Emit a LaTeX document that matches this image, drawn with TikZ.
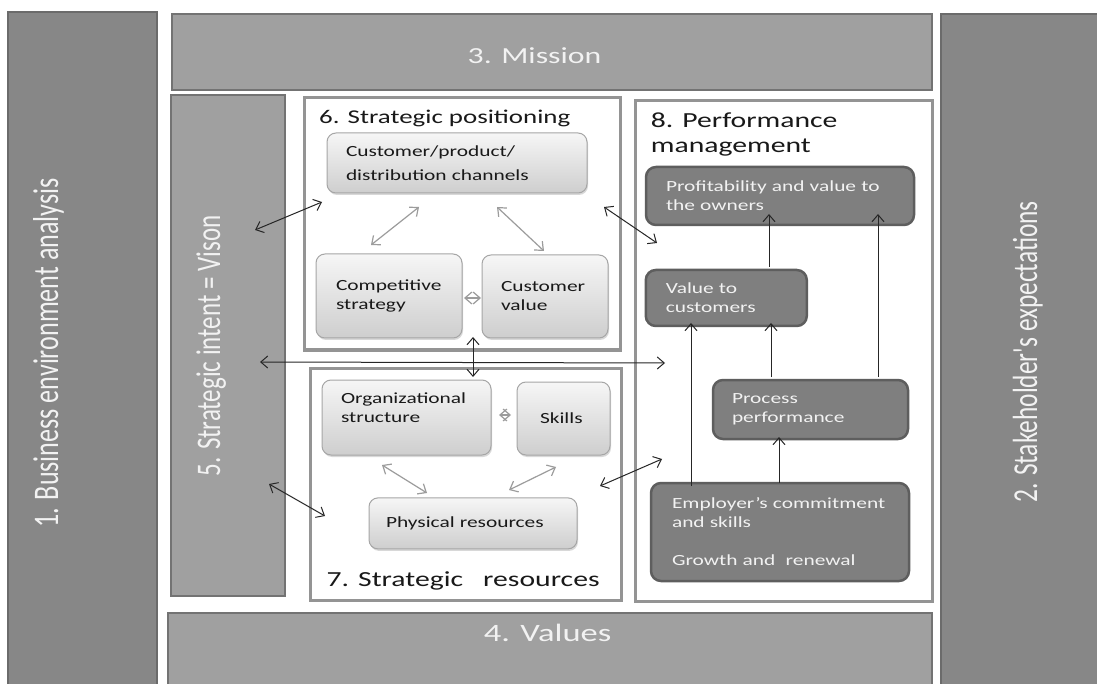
\documentclass[tikz,border=0pt]{standalone}
\usepackage{fontspec}
\setmainfont{Carlito}[FakeStretch=1.38]
\newfontfamily\sidefont{Carlito}[FakeStretch=0.725]
\usetikzlibrary{shadows, arrows.meta, positioning, calc}

\definecolor{sidegray}{HTML}{878787}
\definecolor{sideedge}{HTML}{6B6B6B}
\definecolor{bandgray}{HTML}{A0A0A0}
\definecolor{bandedge}{HTML}{737373}
\definecolor{paneledge}{HTML}{949494}
\definecolor{lighttop}{HTML}{F6F6F6}
\definecolor{lightbottom}{HTML}{CECECE}
\definecolor{lightedge}{HTML}{A6A6A6}
\definecolor{darkfill}{HTML}{7F7F7F}
\definecolor{darkedge}{HTML}{5E5E5E}
\definecolor{labelwhite}{HTML}{F2F2F2}
\definecolor{arrowgray}{HTML}{9C9C9C}

\tikzset{
  sidebox/.style={draw=sideedge, fill=sidegray, line width=2.5pt},
  bandbox/.style={draw=bandedge, fill=bandgray, line width=2.5pt},
  panel/.style={draw=paneledge, fill=white, line width=3pt},
  sidelabel/.style={text=labelwhite, rotate=90, anchor=base, inner sep=0pt},
  bandlabel/.style={text=labelwhite, anchor=base, inner sep=0pt},
  paneltitle/.style={text=black!90, anchor=base west, inner sep=0pt, font=\fontsize{21.5}{25.3}\selectfont},
  lightbox/.style={rounded corners=9pt, draw=lightedge, line width=1pt,
    top color=lighttop, bottom color=lightbottom, align=left, inner sep=1pt,
    text=black!90, font=\fontsize{15.5}{19}\selectfont,
    drop shadow={shadow xshift=1pt, shadow yshift=-2pt, opacity=0.3}},
  darkbox/.style={rounded corners=10pt, draw=darkedge, line width=2.5pt,
    fill=darkfill, align=left, inner sep=1pt, text=labelwhite,
    font=\fontsize{15.5}{19}\selectfont},
  bkarrow/.style={draw=black!85, line width=1pt},
  gyarrow/.style={draw=arrowgray, line width=1.2pt}
}

\begin{document}
\begin{tikzpicture}[x=1pt, y=-1pt, >={Straight Barb[length=7pt,width=12pt]}]
  \path[use as bounding box, clip] (0,0) rectangle (1097,684);

  % outer frame
  \node[sidebox, minimum width=149pt, minimum height=690pt] (envbox) at (82.5,357) {};
  \node[sidebox, minimum width=170pt, minimum height=690pt] (stakebox) at (1026,359) {};
  \node[bandbox, minimum width=760pt, minimum height=76pt] (missionbox) at (552,52) {};
  \node[bandbox, minimum width=114pt, minimum height=501pt] (intentbox) at (228,345.5) {};
  \node[bandbox, minimum width=764pt, minimum height=90pt] (valuesbox) at (550,658) {};

  \node[sidelabel, font={\sidefont\fontsize{36}{40}\selectfont}] (envtext) at (58,353) {1. Business environment analysis};
  \node[sidelabel, font={\sidefont\fontsize{35}{40}\selectfont}] (staketext) at (1037,352) {2. Stakeholder\char39 s expectations};
  \node[sidelabel, font={\sidefont\fontsize{34.5}{40}\selectfont}] (intenttext) at (220,346) {5. Strategic intent = Vison};
  \node[bandlabel, font=\fontsize{23}{27}\selectfont] (missiontext) at (534.5,63.3) {3. Mission};
  \node[bandlabel, font=\fontsize{25}{29}\selectfont] (valuestext) at (547.6,641.7) {4. Values};

  % panels 6, 7, 8
  \node[panel, minimum width=316pt, minimum height=252pt] (posbox) at (462,224) {};
  \node[panel, minimum width=311pt, minimum height=232pt] (resbox) at (465.5,484) {};
  \node[panel, minimum width=297pt, minimum height=500pt] (perfbox) at (784,351) {};
  \node[paneltitle, font=\fontsize{19.5}{23}\selectfont] (postitle) at (319,123.3) {6. Strategic positioning};
  \node[paneltitle] (restitle) at (326.5,586.7) {7. Strategic\ \ \ resources};
  \node[paneltitle] (perftitle) at (650.7,127.7) {8. Performance};
  \node[paneltitle] (perftitleb) at (650.7,153) {management};

  % 6. strategic positioning
  \node[lightbox, minimum width=260pt, minimum height=60pt, text width=222pt] (channels) at (457,163) {Customer/product/\\[5pt]distribution channels};
  \node[lightbox, minimum width=146pt, minimum height=84pt, text width=106pt] (compstrat) at (389,296) {Competitive\\strategy};
  \node[lightbox, minimum width=126pt, minimum height=83pt, text width=88pt] (custvalue) at (545,296.5) {Customer\\value};

  % 7. strategic resources
  \node[lightbox, minimum width=169pt, minimum height=75pt, text width=131pt] (orgstruct) at (406.5,417.5) {Organizational\\structure\\\mbox{}};
  \node[lightbox, minimum width=93pt, minimum height=73pt, text width=47pt] (skills) at (563.5,418.5) {Skills};
  \node[lightbox, minimum width=208pt, minimum height=51pt, text width=174pt] (physres) at (473,523.4) {Physical resources};

  % 8. performance management
  \node[darkbox, minimum width=268pt, minimum height=58pt, text width=228pt] (profit) at (780,196) {Profitability and value to\\the owners};
  \node[darkbox, minimum width=161pt, minimum height=56pt, text width=121pt] (valuecust) at (726.3,298) {Value to\\customers};
  \node[darkbox, minimum width=195pt, minimum height=59pt, text width=157pt] (process) at (810.5,409.5) {Process\\performance};
  \node[darkbox, minimum width=258pt, minimum height=98pt, text width=216pt] (employer) at (780,532) {Employer\char39 s commitment\\and skills\\[19pt]Growth and\ \ renewal};

  % arrow ends
  \foreach \n/\x/\y in {i1/255/230, c1/322/202, c2/604/207, p1/657/243,
                        i2/260/362, p2/665/363, s1/473/337, r1/473/377,
                        i3/269/484, r2/325/516, r3/600/486, p3/662/459,
                        g1/419/207, g2/371/245, g3/497/207, g4/544/251,
                        g5/464/298, g6/481/298, g7/382/465, g8/427/493,
                        g9/509/490, g10/556/467, g11/499/415, g12/511/415,
                        v1/769/267, v2/769/214, v3/878/377, v4/878/214,
                        v5/771/377, v6/771/323, v7/691/486, v8/691/323,
                        v9/779/483, v10/779/437} {
    \coordinate (\n) at (\x,\y);
  }

  \foreach \a/\b in {i1/c1, c2/p1, i2/p2, s1/r1, i3/r2, r3/p3} {
    \draw[bkarrow, <->] (\a) -- (\b);
  }
  \foreach \a/\b in {g1/g2, g3/g4, g5/g6, g7/g8, g9/g10, g11/g12} {
    \draw[gyarrow, <->] (\a) -- (\b);
  }
  \foreach \a/\b in {v1/v2, v3/v4, v5/v6, v7/v8, v9/v10} {
    \draw[bkarrow, ->] (\a) -- (\b);
  }
\end{tikzpicture}
\end{document}
